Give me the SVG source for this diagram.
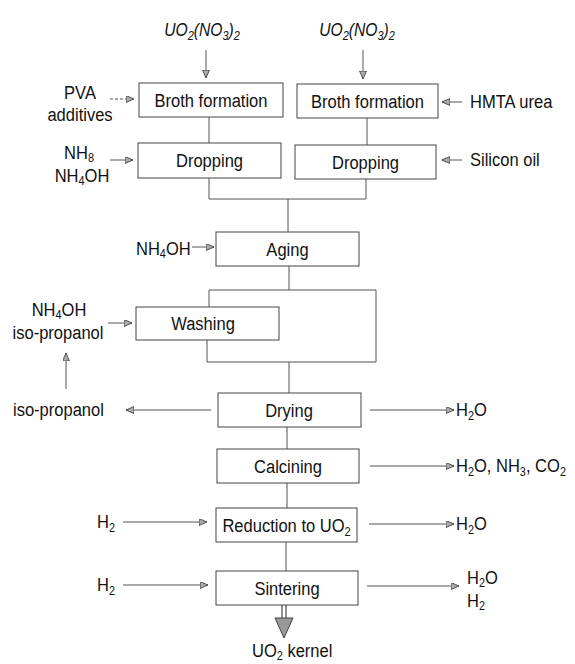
<svg xmlns="http://www.w3.org/2000/svg" width="575" height="664" viewBox="0 0 575 664">
<defs>
<marker id="ah" markerUnits="userSpaceOnUse" markerWidth="10" markerHeight="8" refX="8" refY="3.5" orient="auto">
<path d="M0,0 L8,3.5 L0,7 z" fill="#aaa" stroke="#333" stroke-width="0.8"/>
</marker>
<style>
text{font-family:"Liberation Sans",Arial,sans-serif;font-size:19px;fill:#111}
.box{fill:#fff;stroke:#444;stroke-width:1}
.ln{fill:none;stroke:#555;stroke-width:1}
.ar{fill:none;stroke:#555;stroke-width:1;marker-end:url(#ah)}
.dash{stroke-dasharray:3,2}
.c{text-anchor:middle}
.it{font-style:italic;font-size:18px}
.s{font-size:12.5px}
</style>
</defs>
<rect width="575" height="664" fill="#fff"/>

<g id="connectors">
<line class="ar" x1="206" y1="50" x2="206" y2="78"/>
<line class="ar" x1="363" y1="50" x2="363" y2="79"/>
<line class="ar dash" x1="110" y1="99" x2="134" y2="99"/>
<line class="ar" x1="462" y1="102" x2="442" y2="102"/>
<line class="ar" x1="110" y1="160" x2="133" y2="160"/>
<line class="ar" x1="462" y1="160" x2="442" y2="160"/>
<line class="ln" x1="209" y1="117" x2="209" y2="143"/>
<line class="ln" x1="367" y1="118" x2="367" y2="145"/>
<polyline class="ln" points="209,178 209,199 366,199 366,179"/>
<line class="ln" x1="288" y1="199" x2="288" y2="232"/>
<line class="ar" x1="192" y1="247" x2="214" y2="247"/>
<line class="ln" x1="289" y1="266" x2="289" y2="290"/>
<polyline class="ln" points="209,307 209,290 376,290 376,362 207,362 207,340"/>
<line class="ar" x1="108" y1="323" x2="132" y2="323"/>
<line class="ar" x1="66" y1="389" x2="66" y2="353"/>
<line class="ln" x1="289" y1="362" x2="289" y2="393"/>
<line class="ar" x1="211" y1="410" x2="126" y2="410"/>
<line class="ar" x1="370" y1="410" x2="454" y2="410"/>
<line class="ln" x1="287" y1="427" x2="287" y2="449"/>
<line class="ar" x1="370" y1="466" x2="454" y2="466"/>
<line class="ln" x1="287" y1="483" x2="287" y2="508"/>
<line class="ar" x1="123" y1="522" x2="207" y2="522"/>
<line class="ar" x1="369" y1="524" x2="454" y2="524"/>
<line class="ln" x1="286" y1="542" x2="286" y2="571"/>
<line class="ar" x1="123" y1="585" x2="208" y2="585"/>
<line class="ar" x1="367" y1="586" x2="459" y2="586"/>
<line x1="282" y1="605" x2="282" y2="619" stroke="#444" stroke-width="1.2"/>
<line x1="286" y1="605" x2="286" y2="619" stroke="#444" stroke-width="1.2"/>
<polygon points="275,618 293,618 284,638" fill="#999" stroke="#444" stroke-width="1"/>
</g>

<g id="inputs">
<text class="it c" transform="translate(202,36) scale(0.87,1)">UO<tspan class="s" dy="4">2</tspan><tspan dy="-4">(NO</tspan><tspan class="s" dy="4">3</tspan><tspan dy="-4">)</tspan><tspan class="s" dy="4">2</tspan></text>
<text class="it c" transform="translate(357,36) scale(0.87,1)">UO<tspan class="s" dy="4">2</tspan><tspan dy="-4">(NO</tspan><tspan class="s" dy="4">3</tspan><tspan dy="-4">)</tspan><tspan class="s" dy="4">2</tspan></text>
<text class="c" transform="translate(80,99) scale(0.87,1)">PVA</text>
<text class="c" transform="translate(80,121) scale(0.87,1)">additives</text>
<text transform="translate(470,108) scale(0.87,1)">HMTA urea</text>
<text class="c" transform="translate(79,159) scale(0.87,1)">NH<tspan class="s" dy="3">8</tspan></text>
<text class="c" transform="translate(82,182) scale(0.87,1)">NH<tspan class="s" dy="3">4</tspan><tspan dy="-3">OH</tspan></text>
<text transform="translate(470,166) scale(0.87,1)">Silicon oil</text>
<text transform="translate(136,255) scale(0.87,1)">NH<tspan class="s" dy="3">4</tspan><tspan dy="-3">OH</tspan></text>
<text class="c" transform="translate(59,316) scale(0.87,1)">NH<tspan class="s" dy="3">4</tspan><tspan dy="-3">OH</tspan></text>
<text class="c" transform="translate(58,339) scale(0.87,1)">iso-propanol</text>
<text transform="translate(13,416) scale(0.87,1)">iso-propanol</text>
<text transform="translate(456,416) scale(0.87,1)">H<tspan class="s" dy="4">2</tspan><tspan dy="-4">O</tspan></text>
<text transform="translate(456,472) scale(0.87,1)">H<tspan class="s" dy="4">2</tspan><tspan dy="-4">O, NH</tspan><tspan class="s" dy="4">3</tspan><tspan dy="-4">, CO</tspan><tspan class="s" dy="4">2</tspan></text>
<text transform="translate(97,528) scale(0.87,1)">H<tspan class="s" dy="4">2</tspan></text>
<text transform="translate(456,530) scale(0.87,1)">H<tspan class="s" dy="4">2</tspan><tspan dy="-4">O</tspan></text>
<text transform="translate(97,591) scale(0.87,1)">H<tspan class="s" dy="4">2</tspan></text>
<text transform="translate(467,584) scale(0.87,1)">H<tspan class="s" dy="3">2</tspan><tspan dy="-3">O</tspan></text>
<text transform="translate(467,607) scale(0.87,1)">H<tspan class="s" dy="3">2</tspan></text>
<text transform="translate(252,657) scale(0.87,1)">UO<tspan class="s" dy="3">2</tspan><tspan dy="-3"> kernel</tspan></text>
</g>

<g id="broth1"><rect class="box" x="139" y="83" width="144" height="34"/><text class="c" transform="translate(211,107) scale(0.87,1)">Broth formation</text></g>
<g id="broth2"><rect class="box" x="297" y="84" width="141" height="34"/><text class="c" transform="translate(367.5,108) scale(0.87,1)">Broth formation</text></g>
<g id="drop1"><rect class="box" x="138" y="143" width="143" height="35"/><text class="c" transform="translate(209.5,167) scale(0.87,1)">Dropping</text></g>
<g id="drop2"><rect class="box" x="295" y="145" width="141" height="34"/><text class="c" transform="translate(365.5,169) scale(0.87,1)">Dropping</text></g>
<g id="aging"><rect class="box" x="216" y="232" width="143" height="34"/><text class="c" transform="translate(287.5,256) scale(0.87,1)">Aging</text></g>
<g id="washing"><rect class="box" x="136" y="307" width="143" height="33"/><text class="c" transform="translate(203,330) scale(0.87,1)">Washing</text></g>
<g id="drying"><rect class="box" x="218" y="393" width="143" height="34"/><text class="c" transform="translate(289,417) scale(0.87,1)">Drying</text></g>
<g id="calcining"><rect class="box" x="217" y="449" width="142" height="34"/><text class="c" transform="translate(288,473) scale(0.87,1)">Calcining</text></g>
<g id="reduction"><rect class="box" x="216" y="508" width="141" height="34"/><text class="c" transform="translate(286.5,532) scale(0.87,1)">Reduction to UO<tspan class="s" dy="4">2</tspan></text></g>
<g id="sintering"><rect class="box" x="216" y="571" width="142" height="34"/><text class="c" transform="translate(287,595) scale(0.87,1)">Sintering</text></g>
</svg>
